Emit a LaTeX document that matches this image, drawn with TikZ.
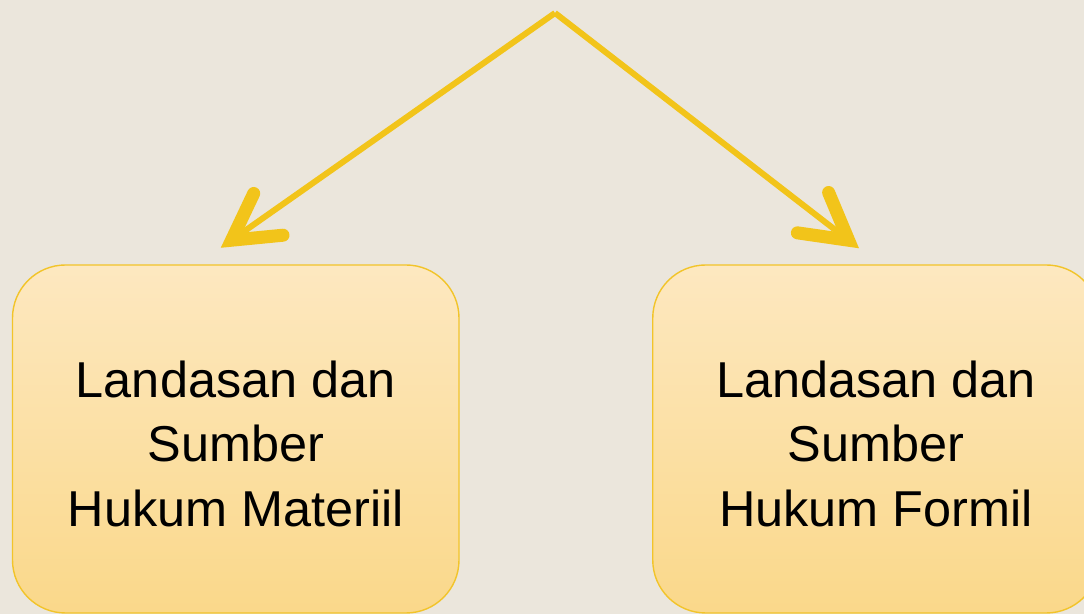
\documentclass[tikz,border=0pt]{standalone}
\usepackage{fontspec}
\setmainfont{Liberation Sans}
\usetikzlibrary{arrows.meta,positioning,calc}
\definecolor{bg}{HTML}{EBE6DC}
\definecolor{gold}{HTML}{F2C41A}
\definecolor{rim}{HTML}{F2C42A}
\definecolor{cream}{HTML}{FDE8C0}
\definecolor{sand}{HTML}{FAD88A}
\tikzset{
    box/.style =    {rectangle,
                    rounded corners=1.06cm,
                    top color=cream,
                    bottom color=sand,
                    draw=rim,
                    line width=0.8pt,
                    text=black,
                    align=center,
                    font=\fontsize{28.7}{36.6}\selectfont,
                    text height=3.5cm,
                    minimum width=8.93cm,
                    minimum height=6.96cm},
    arr/.style =    {draw=gold,
                    line width=0.12cm,
                    line join=miter,
                    -{Straight Barb[length=0.9cm,width=1.02cm,line width=0.26cm 0,line cap=round,line join=miter]}},
    node distance=2cm}

\begin{document}
\begin{tikzpicture}
        \clip (0,0) rectangle (21.68,12.28);
        \fill [bg] (0,0) rectangle (21.68,12.28);

        \node[box]      (M) at (4.715,3.50)                       {Landasan dan\\Sumber\\Hukum Materiil};
        \node[box]      (F) [right of=M,node distance=12.805cm]   {Landasan dan\\Sumber\\Hukum Formil};

        \coordinate     (T) at (11.10,12.02);
        \coordinate     (L) at ([xshift=-0.30cm,yshift=0.33cm]M.north);
        \coordinate     (R) at ([xshift=-0.34cm,yshift=0.32cm]F.north);

        \path           (T) edge [arr]  (L)
                        (T) edge [arr]  (R);
\end{tikzpicture}
\end{document}
